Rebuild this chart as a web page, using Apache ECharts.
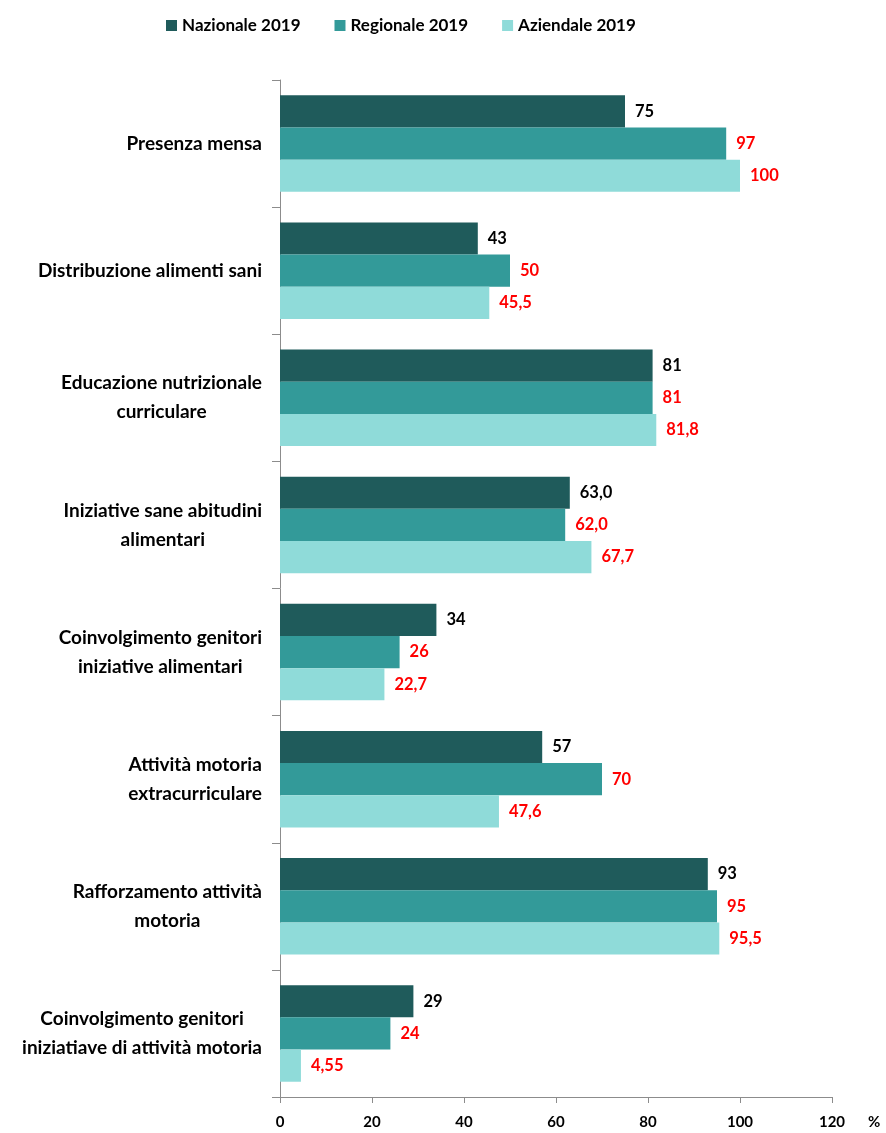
<!DOCTYPE html>
<html>
<head>
<meta charset="utf-8">
<script src="https://cdn.jsdelivr.net/npm/echarts@6/dist/echarts.min.js"></script>
<style>
  html, body { margin: 0; padding: 0; background: #fff; }
  #chart { width: 886px; height: 1133px; }
</style>
</head>
<body>
<div id="chart"></div>
<script>
// categorie (asse verticale)
var categories = [
  'Presenza mensa',
  'Distribuzione alimenti sani',
  'Educazione nutrizionale\ncurriculare',
  'Iniziative sane abitudini\nalimentari',
  'Coinvolgimento genitori\niniziative alimentari',
  'Attività motoria\nextracurriculare',
  'Rafforzamento attività\nmotoria',
  'Coinvolgimento genitori\niniziatiave di attività motoria'
];
var seriesNames = ['Nazionale 2019', 'Regionale 2019', 'Aziendale 2019'];

// valori
var nazionale = [75, 43, 81, 63.0, 34, 57, 93, 29];
var regionale = [97, 50, 81, 62.0, 26, 70, 95, 24];
var aziendale = [100, 45.5, 81.8, 67.7, 22.7, 47.6, 95.5, 4.55];

// decimali mostrati nelle etichette
var nazionaleDec = [0, 0, 0, 1, 0, 0, 0, 0];
var regionaleDec = [0, 0, 0, 1, 0, 0, 0, 0];
var aziendaleDec = [0, 1, 1, 1, 1, 1, 1, 2];

var xTicks = [0, 20, 40, 60, 80, 100, 120];

var font = 'Lato, "Liberation Sans", sans-serif';

function makeSeries (name, data, dec, color, labelColor) {
  return {
    name: name,
    type: 'bar',
    data: data,
    barGap: 0,
    barCategoryGap: '24%',
    itemStyle: { color: color },
    label: {
      show: true,
      position: 'right',
      distance: 10,
      color: labelColor,
      fontFamily: font,
      fontWeight: 'bold',
      fontSize: 16.5,
      formatter: function (p) {
        return p.value.toFixed(dec[p.dataIndex]).replace('.', ',');
      }
    }
  };
}

var chart = echarts.init(document.getElementById('chart'));
chart.setOption({
  animation: false,
  legend: {
    top: 12,
    left: 161,
    icon: 'rect',
    itemWidth: 11,
    itemHeight: 11,
    itemGap: 34,
    textStyle: { fontFamily: font, fontWeight: 'bold', fontSize: 17, color: '#000' },
    data: seriesNames
  },
  grid: { left: 280, right: 54, top: 80, bottom: 36 },
  xAxis: {
    type: 'value',
    min: xTicks[0],
    max: xTicks[xTicks.length - 1],
    interval: xTicks[1] - xTicks[0],
    splitLine: { show: false },
    axisLine: { show: true, lineStyle: { color: '#8c8c8c' } },
    axisTick: { show: true, length: 6, lineStyle: { color: '#8c8c8c' } },
    axisLabel: {
      margin: 18,
      color: '#000',
      fontFamily: font,
      fontWeight: 'bold',
      fontSize: 15
    }
  },
  yAxis: {
    type: 'category',
    inverse: true,
    data: categories,
    axisLine: { show: true, lineStyle: { color: '#8c8c8c' } },
    axisTick: { show: true, length: 8, lineStyle: { color: '#8c8c8c' } },
    axisLabel: {
      margin: 18,
      formatter: function (v) {
        return v.split('\n').map(function (s) { return '{c|' + s + '}'; }).join('\n');
      },
      rich: {
        c: {
          align: 'center',
          color: '#000',
          fontFamily: font,
          fontWeight: 'bold',
          fontSize: 19,
          lineHeight: 29
        }
      }
    }
  },
  graphic: [{
    type: 'text',
    left: 868,
    top: 1115,
    style: { text: '%', fill: '#000', font: 'bold 15px ' + font }
  }],
  series: [
    makeSeries(seriesNames[0], nazionale, nazionaleDec, '#1f5b5b', '#000'),
    makeSeries(seriesNames[1], regionale, regionaleDec, '#339a99', '#ff0000'),
    makeSeries(seriesNames[2], aziendale, aziendaleDec, '#8fdbd9', '#ff0000')
  ]
});
</script>
</body>
</html>
